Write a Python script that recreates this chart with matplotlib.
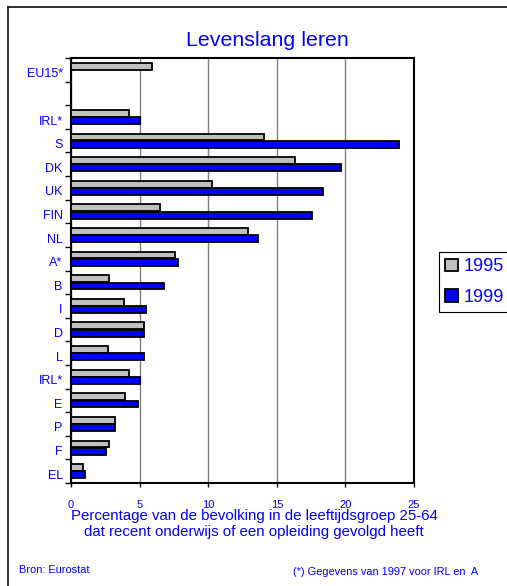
import matplotlib.pyplot as plt
import matplotlib.transforms as mtransforms
import numpy as np

plt.rcParams['font.family'] = ['Liberation Sans', 'DejaVu Sans']

# categories from top to bottom ('' = empty slot)
landen = ['EU15*', '', 'IRL*', 'S', 'DK', 'UK', 'FIN', 'NL', 'A*', 'B', 'I',
          'D', 'L', 'IRL*', 'E', 'P', 'F', 'EL']
waarden_1995 = [5.9, np.nan, 4.2, 14.1, 16.3, 10.3, 6.5, 12.9, 7.6, 2.75, 3.85,
                5.3, 2.7, 4.2, 3.95, 3.2, 2.75, 0.9]
waarden_1999 = [np.nan, np.nan, 5.0, 23.9, 19.7, 18.4, 17.6, 13.6, 7.8, 6.8, 5.5,
                5.3, 5.3, 5.0, 4.85, 3.2, 2.55, 1.05]
xticks = [0, 5, 10, 15, 20, 25]

blauw = '#0000ff'
W, H = 507, 586

fig = plt.figure(figsize=(W / 100, H / 100), dpi=100)
ax = fig.add_axes([71 / W, 1 - 483 / H, (414 - 71) / W, (483 - 58) / H])

y = np.arange(len(landen))
h = 0.29
b1 = ax.barh(y - 0.155, waarden_1995, height=h, color='#c0c0c0',
             edgecolor='black', linewidth=1.3, label='1995', zorder=3)
b2 = ax.barh(y + 0.155, waarden_1999, height=h, color=blauw,
             edgecolor='black', linewidth=1.3, label='1999', zorder=3)

ax.set_ylim(len(landen) - 0.5, -0.5)
ax.set_xlim(0, 25)
ax.set_xticks(xticks)
ax.set_xticklabels([str(t) for t in xticks], color=blauw, fontsize=8)

# ticks on the category boundaries, labels in the middle
ax.set_yticks(np.arange(len(landen) + 1) - 0.5)
ax.set_yticklabels([])
ax.set_yticks(y, minor=True)
ax.set_yticklabels(landen, minor=True, color=blauw, fontsize=9)
ax.tick_params(axis='y', which='major', direction='out', length=4, width=1)
ax.tick_params(axis='y', which='minor', length=0, pad=6)
ax.tick_params(axis='x', direction='out', length=3, width=1, pad=9)
offset = mtransforms.ScaledTranslation(0, -3 / 100, fig.dpi_scale_trans)
for lab in ax.get_yminorticklabels():
    lab.set_transform(lab.get_transform() + offset)

ax.grid(axis='x', color='#808080', linewidth=1, zorder=0)
for s in ax.spines.values():
    s.set_linewidth(1.5)
    s.set_color('black')

fig.text(267 / W, 1 - 41 / H, 'Levenslang leren', color=blauw, fontsize=15.4,
         ha='center', va='center')
fig.text(254 / W, 1 - 524 / H,
         'Percentage van de bevolking in de leeftijdsgroep 25-64\n'
         'dat recent onderwijs of een opleiding gevolgd heeft',
         color=blauw, fontsize=10.8, ha='center', va='center', linespacing=1.15)
fig.text(19 / W, 1 - 570 / H, 'Bron: Eurostat', color=blauw, fontsize=7.9,
         ha='left', va='center')
fig.text(293 / W, 1 - 572 / H, '(*) Gegevens van 1997 voor IRL en  A',
         color=blauw, fontsize=7.9, ha='left', va='center')

leg = fig.legend(handles=[b1, b2], labels=['1995', '1999'], loc='upper left',
                 bbox_to_anchor=(439 / W, 1 - 252 / H), bbox_transform=fig.transFigure,
                 borderaxespad=0, fontsize=13, fancybox=False, framealpha=1,
                 edgecolor='black', handlelength=0.7, handleheight=0.7,
                 handletextpad=0.3, borderpad=0.35, labelspacing=0.75)
leg.get_frame().set_linewidth(0.8)
for t in leg.get_texts():
    t.set_color(blauw)

# outer frame of the chart area
fig.add_artist(plt.Line2D([8 / W, 8 / W], [0, 1 - 7 / H], color='#202020',
                          linewidth=1.3, transform=fig.transFigure))
fig.add_artist(plt.Line2D([8 / W, 1], [1 - 7 / H, 1 - 7 / H], color='#202020',
                          linewidth=1.3, transform=fig.transFigure))

fig.savefig('out.png', dpi=100)
